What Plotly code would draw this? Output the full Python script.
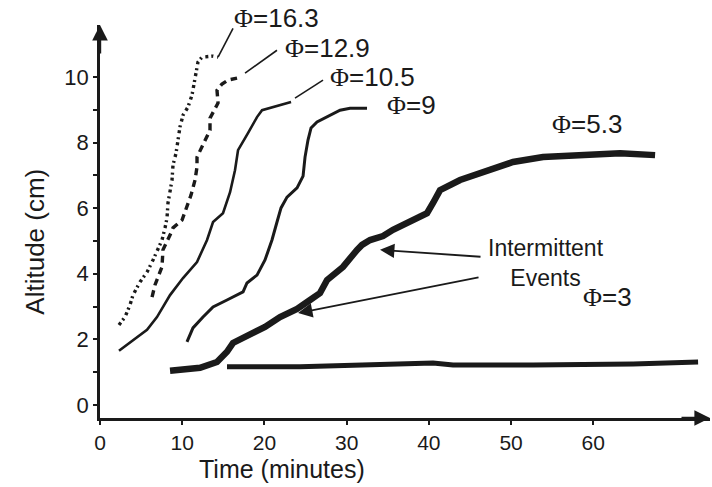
import plotly.graph_objects as go

# Altitude (cm) versus time (minutes) for each Φ
t_163 = [2.31, 3.04, 3.65, 4.01, 4.87, 5.72, 6.45, 7.06, 7.54, 7.91, 8.15, 8.27, 8.52, 8.76,
         8.88, 9.25, 9.49, 9.73, 10.10, 10.71, 11.19, 11.56, 11.92, 12.41, 13.75, 14.36]
h_163 = [2.44, 2.68, 3.05, 3.35, 3.75, 4.05, 4.42, 4.73, 5.03, 5.40, 5.70, 6.16, 6.55, 6.86,
         7.32, 7.68, 8.08, 8.48, 8.84, 9.09, 9.45, 9.91, 10.46, 10.61, 10.64, 10.61]

t_129 = [6.33, 6.69, 7.54, 7.66, 8.52, 8.88, 9.98, 10.58, 11.07, 11.56, 11.80, 11.80, 12.53,
         13.38, 13.38, 14.36, 14.23, 14.84, 15.57, 16.67]
h_129 = [3.29, 3.66, 4.21, 4.73, 5.18, 5.40, 5.64, 6.04, 6.40, 6.86, 7.26, 7.56, 7.93,
         8.38, 8.75, 9.21, 9.60, 9.79, 9.91, 9.97]

t_105 = [2.31, 4.01, 5.72, 6.93, 8.52, 10.10, 11.80, 13.02, 13.75, 14.96, 15.82, 16.42, 16.79,
         18.00, 19.10, 19.71, 21.05, 22.75, 23.24]
h_105 = [1.65, 1.98, 2.29, 2.68, 3.35, 3.87, 4.36, 5.03, 5.58, 5.85, 6.49, 7.16, 7.77,
         8.29, 8.78, 8.99, 9.09, 9.21, 9.24]

t_9 = [10.58, 11.31, 12.53, 13.75, 15.45, 17.40, 17.88, 19.10, 20.07, 20.92, 21.53, 22.02,
       22.75, 23.97, 24.70, 24.94, 25.30, 25.67, 26.40, 27.62, 29.20, 30.41, 32.48]
h_9 = [1.92, 2.35, 2.68, 2.99, 3.20, 3.45, 3.72, 3.96, 4.42, 5.03, 5.58, 6.01,
       6.34, 6.62, 6.98, 7.56, 8.08, 8.45, 8.63, 8.78, 8.99, 9.05, 9.05]

t_53 = [8.52, 12.17, 14.23, 15.45, 16.18, 18.25, 20.07, 21.90, 23.97, 25.55, 26.76, 27.62,
        29.56, 31.27, 31.87, 32.85, 34.43, 35.64, 37.71, 39.78, 40.51, 41.36, 43.80, 47.08,
        50.24, 53.89, 58.76, 63.26, 67.52]
h_53 = [1.04, 1.13, 1.31, 1.62, 1.89, 2.13, 2.38, 2.68, 2.93, 3.20, 3.41, 3.81,
        4.21, 4.73, 4.88, 5.03, 5.15, 5.34, 5.61, 5.85, 6.16, 6.55, 6.86, 7.16,
        7.41, 7.56, 7.62, 7.68, 7.62]

t_3 = [15.45, 24.33, 40.51, 42.94, 52.68, 64.84, 72.75]
h_3 = [1.16, 1.16, 1.28, 1.22, 1.22, 1.25, 1.31]

x_ticks = [0, 10, 20, 30, 40, 50, 60]
y_ticks = [0, 2, 4, 6, 8, 10]

X_MAX = 74.2
Y_MIN, Y_MAX = -0.4, 11.59
INK = "#1a1a1a"
SANS = "Liberation Sans, Arial, sans-serif"

fig = go.Figure()

series = [
    (t_163, h_163, 3.4, "3px,3px,2px,4px"),
    (t_129, h_129, 3.4, "7px,5px"),
    (t_105, h_105, 2.6, "solid"),
    (t_9, h_9, 3.0, "solid"),
    (t_53, h_53, 6.5, "solid"),
    (t_3, h_3, 5.0, "solid"),
]
for xs, ys, w, dash in series:
    fig.add_trace(go.Scatter(x=xs, y=ys, mode="lines",
                             line=dict(color=INK, width=w, dash=dash),
                             showlegend=False, hoverinfo="skip"))


def phi(v):
    return ('<span style="font-family:Liberation Serif, Times New Roman, serif">Φ</span>=' + v)


def paper_y(y):
    return (y - Y_MIN) / (Y_MAX - Y_MIN)


labels = [
    ("16.3", 21.5, 11.8),
    ("12.9", 27.7, 10.9),
    ("10.5", 33.2, 10.0),
    ("9", 37.9, 9.15),
    ("5.3", 59.2, 8.57),
    ("3", 61.7, 3.29),
]
annotations = []
for v, x, y in labels:
    annotations.append(dict(x=x, y=paper_y(y), xref="x", yref="paper", text=phi(v),
                            xanchor="center", yanchor="middle", showarrow=False,
                            font=dict(family=SANS, size=26, color=INK)))

annotations.append(dict(x=54.3, y=4.33, xref="x", yref="y",
                        text="Intermittent<br>Events", showarrow=False,
                        xanchor="center", yanchor="middle",
                        font=dict(family=SANS, size=23, color=INK)))

# arrows pointing at the intermittent events on the Φ=5.3 curve
for hx, hy, ax, ay in [(34.06, 4.73, 102, 7), (24.09, 2.80, 182, -36)]:
    annotations.append(dict(x=hx, y=hy, xref="x", yref="y", ax=ax, ay=ay,
                            text="", showarrow=True, arrowhead=2, arrowsize=1.6,
                            arrowwidth=1.8, arrowcolor=INK))

# axis arrowheads
annotations.append(dict(x=X_MAX, y=Y_MIN, xref="x", yref="y", ax=-30, ay=0, text="",
                        showarrow=True, arrowhead=2, arrowsize=1.3, arrowwidth=2.4,
                        arrowcolor=INK))
annotations.append(dict(x=0, y=Y_MAX, xref="x", yref="y", ax=0, ay=30, text="",
                        showarrow=True, arrowhead=2, arrowsize=1.3, arrowwidth=2.4,
                        arrowcolor=INK))

# axis titles
annotations.append(dict(x=0.298, y=-0.13, xref="paper", yref="paper",
                        text="Time (minutes)", showarrow=False,
                        xanchor="center", yanchor="middle",
                        font=dict(family=SANS, size=25, color=INK)))
annotations.append(dict(x=-0.107, y=0.448, xref="paper", yref="paper",
                        text="Altitude (cm)", showarrow=False, textangle=-90,
                        xanchor="center", yanchor="middle",
                        font=dict(family=SANS, size=26, color=INK)))

# leader lines from the labels to the curves
shapes = []
for x0, y0, x1, y1 in [(14.36, 10.61, 16.18, 11.49),
                       (17.64, 10.12, 21.53, 10.82),
                       (23.72, 9.36, 27.13, 9.91)]:
    shapes.append(dict(type="line", xref="x", yref="y", x0=x0, y0=y0, x1=x1, y1=y1,
                       line=dict(color=INK, width=1.6)))

fig.update_layout(
    width=712, height=487,
    margin=dict(l=100, r=2, t=25, b=69),
    paper_bgcolor="white", plot_bgcolor="white",
    annotations=annotations, shapes=shapes,
    xaxis=dict(range=[0, X_MAX], showgrid=False, zeroline=False,
               showline=True, linecolor=INK, linewidth=2.5,
               tickvals=x_ticks, ticks="outside", ticklen=4, tickwidth=2,
               tickcolor=INK, tickfont=dict(family=SANS, size=21, color=INK)),
    yaxis=dict(range=[Y_MIN, Y_MAX], showgrid=False, zeroline=False,
               showline=True, linecolor=INK, linewidth=2.5,
               tickvals=y_ticks, ticks="outside", ticklen=4, tickwidth=2,
               tickcolor=INK, tickfont=dict(family=SANS, size=22, color=INK),
               minor=dict(tickvals=[1, 3, 5, 7, 9], ticks="outside", ticklen=4,
                          tickwidth=2, tickcolor=INK)),
)

fig.write_html("out.html")
